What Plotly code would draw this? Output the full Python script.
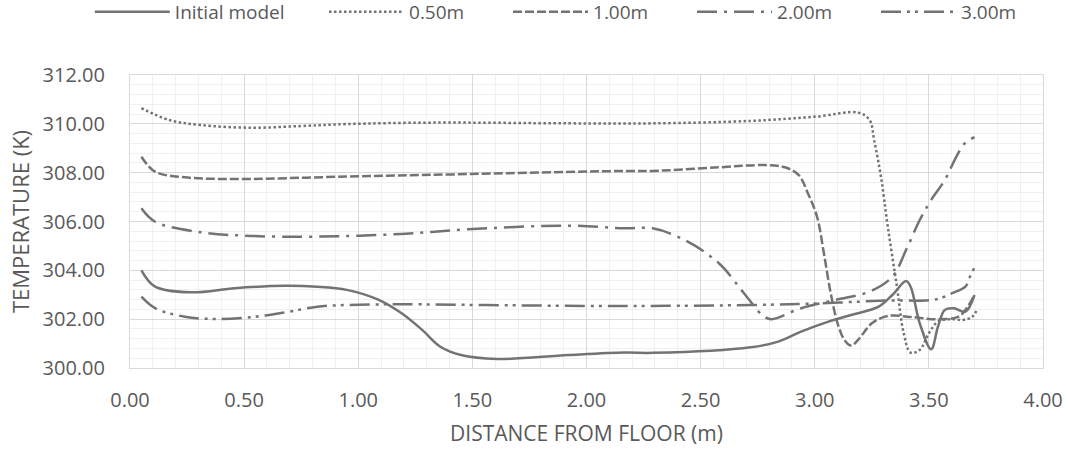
import plotly.graph_objects as go

# ---- data ----
x_initial = [0.05, 0.11, 0.27, 0.46, 0.68, 0.82, 0.95, 1.09, 1.19, 1.28, 1.36, 1.45, 1.61, 1.92, 2.17, 2.29,
             2.72, 2.84, 2.94, 3.06, 3.16, 3.28, 3.34, 3.40, 3.42, 3.46, 3.51, 3.54, 3.57, 3.61, 3.66, 3.70]
y_initial = [304.00, 303.33, 303.10, 303.27, 303.37, 303.33, 303.20, 302.79, 302.24, 301.56, 300.87, 300.53,
             300.37, 300.53, 300.63, 300.62, 300.85, 301.08, 301.49, 301.90, 302.17, 302.51, 302.99, 303.56,
             303.33, 301.83, 300.77, 301.70, 302.38, 302.45, 302.31, 302.99]

x_050 = [0.05, 0.17, 0.31, 0.53, 0.75, 0.95, 1.33, 1.92, 2.29, 2.72, 3.01, 3.19, 3.24, 3.26, 3.29, 3.32,
         3.36, 3.39, 3.42, 3.46, 3.50, 3.54, 3.60, 3.65, 3.69, 3.71]
y_050 = [310.64, 310.16, 309.95, 309.84, 309.91, 309.99, 310.05, 310.02, 310.02, 310.12, 310.30, 310.46,
         310.16, 309.34, 307.84, 305.79, 303.33, 301.42, 300.63, 300.74, 301.42, 301.90, 302.00, 301.97,
         302.10, 302.38]

x_100 = [0.05, 0.11, 0.24, 0.46, 0.95, 1.42, 2.17, 2.29, 2.58, 2.78, 2.87, 2.93, 2.97, 3.01, 3.04, 3.07,
         3.10, 3.13, 3.16, 3.19, 3.25, 3.32, 3.43, 3.53, 3.63, 3.67, 3.70]
y_100 = [308.65, 308.04, 307.81, 307.74, 307.84, 307.93, 308.07, 308.07, 308.22, 308.31, 308.22, 307.90,
         307.16, 306.20, 304.70, 303.06, 301.83, 301.15, 300.92, 301.15, 301.83, 302.13, 302.08, 302.00,
         302.10, 302.51, 302.99]

x_200 = [0.05, 0.11, 0.31, 0.53, 0.82, 1.19, 1.48, 1.92, 2.17, 2.29, 2.43, 2.58, 2.69, 2.77, 2.81, 2.94,
         3.09, 3.24, 3.34, 3.40, 3.46, 3.51, 3.57, 3.62, 3.66, 3.70]
y_200 = [306.54, 305.99, 305.56, 305.41, 305.38, 305.49, 305.68, 305.83, 305.72, 305.72, 305.24, 304.29,
         303.06, 302.17, 302.00, 302.45, 302.79, 303.13, 303.74, 304.83, 306.06, 306.88, 307.70, 308.65,
         309.23, 309.45]

x_300 = [0.05, 0.11, 0.24, 0.37, 0.53, 0.68, 0.82, 0.95, 1.19, 1.63, 2.17, 2.72, 3.02, 3.31, 3.53, 3.60,
         3.66, 3.68, 3.70]
y_300 = [302.92, 302.45, 302.10, 302.01, 302.08, 302.28, 302.51, 302.58, 302.61, 302.57, 302.54, 302.58,
         302.65, 302.76, 302.81, 303.06, 303.33, 303.74, 304.12]

series_names = ["Initial model", "0.50m", "1.00m", "2.00m", "3.00m"]
x_tickvals = [0, 0.5, 1.0, 1.5, 2.0, 2.5, 3.0, 3.5, 4.0]
y_tickvals = [300, 302, 304, 306, 308, 310, 312]

# ---- styling ----
LINE_COLOR = "#737373"
TEXT_COLOR = "#595959"
FONT = "Open Sans"
dashes = ["solid", "2.5px,2.5px", "9px,3px", "20px,7px,3px,7px", "20px,6px,3px,5px,3px,6px"]
legend_ids = ["legend", "legend2", "legend2", "legend2", "legend2"]

fig = go.Figure()
all_x = [x_initial, x_050, x_100, x_200, x_300]
all_y = [y_initial, y_050, y_100, y_200, y_300]
for name, xs, ys, d, lg in zip(series_names, all_x, all_y, dashes, legend_ids):
    fig.add_trace(go.Scatter(
        x=xs, y=ys, name=name, mode="lines", legend=lg,
        line=dict(color=LINE_COLOR, width=2.5, dash=d, shape="spline", smoothing=1.0),
    ))

legend_common = dict(orientation="h", y=1.215, yanchor="middle", xanchor="left",
                     font=dict(size=19, color=TEXT_COLOR, family=FONT), itemwidth=75,
                     bgcolor="rgba(0,0,0,0)")

fig.update_layout(
    width=1068, height=450,
    margin=dict(l=130, r=25, t=75, b=82, autoexpand=False),
    paper_bgcolor="white", plot_bgcolor="white",
    font=dict(family=FONT, color=TEXT_COLOR, size=19),
    showlegend=True,
    legend=dict(x=-0.044, **legend_common),
    legend2=dict(x=0.2125, entrywidth=94, entrywidthmode="pixels", **legend_common),
)

fig.update_xaxes(
    range=[0, 4], tickvals=x_tickvals, tickformat=".2f",
    showgrid=True, gridcolor="#d9d9d9", gridwidth=1,
    minor=dict(dtick=0.1, showgrid=True, gridcolor="#f0f0f0", gridwidth=1),
    showline=True, linecolor="#d9d9d9", linewidth=1, mirror=True,
    zeroline=False, ticks="", ticklabelstandoff=14,
    tickfont=dict(size=20, color=TEXT_COLOR, family=FONT),
    title=dict(text="DISTANCE FROM FLOOR (m)", font=dict(size=21, color=TEXT_COLOR, family=FONT), standoff=14),
)
fig.update_yaxes(
    range=[300, 312], tickvals=y_tickvals, tickformat=".2f",
    showgrid=True, gridcolor="#d9d9d9", gridwidth=1,
    minor=dict(dtick=0.4, tick0=300, showgrid=True, gridcolor="#f0f0f0", gridwidth=1),
    showline=True, linecolor="#d9d9d9", linewidth=1, mirror=True,
    zeroline=False, ticks="", ticklabelstandoff=20,
    tickfont=dict(size=20, color=TEXT_COLOR, family=FONT),
    title=dict(text="TEMPERATURE (K)", font=dict(size=22, color=TEXT_COLOR, family=FONT), standoff=6),
)

fig.write_html("out.html")
